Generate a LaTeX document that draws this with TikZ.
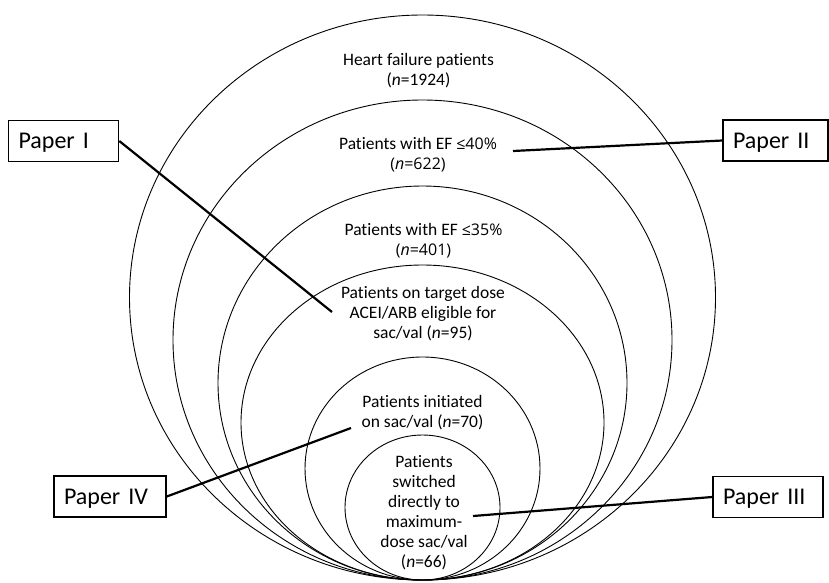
\documentclass[tikz,border=0pt]{standalone}
\usepackage{fontspec}
\setmainfont{Carlito}[Ligatures=NoCommon]
\newfontfamily\segoe{Open Sans}
\newcommand{\thinpart}[1]{{\segoe\fontsize{16}{20}\selectfont #1}}
\begin{document}
\begin{tikzpicture}[x=1pt,y=-1pt,
  ring/.style={line width=0.9pt},
  tag/.style={font=\fontsize{17.5}{20}\selectfont, align=center, inner sep=0pt},
  paperbox/.style={draw, line width=1.6pt, font=\fontsize{24}{28}\selectfont,
    text height=15.5pt, text depth=0pt, minimum height=41pt,
    inner xsep=10pt, align=left},
  link/.style={line width=2.2pt}]
\useasboundingbox (0,0) rectangle (829,582);

% nested groups, all touching at the bottom
\draw[ring] (422.5,297.5) ellipse [x radius=293pt, y radius=282.5pt];
\draw[ring] (422.5,340)   ellipse [x radius=249.5pt, y radius=240pt];
\draw[ring] (422.5,383)   ellipse [x radius=204.5pt, y radius=197pt];
\draw[ring] (422.5,422.5) ellipse [x radius=181.5pt, y radius=157.5pt];
\draw[ring] (422.5,468.5) ellipse [x radius=117.5pt, y radius=111.5pt];
\draw[ring] (422.5,507.5) ellipse [x radius=77.5pt, y radius=72.5pt];

% group labels
\node[tag] (hf)   at (418.5,71)  {Heart failure patients\\(\textit{n}=1924)};
\node[tag] (ef40) at (418,155)   {Patients with EF \thinpart{≤40\%}\\\thinpart{(\textit{n}=622)}};
\node[tag] (ef35) at (423.5,241) {Patients with EF \thinpart{≤35\%}\\\thinpart{(\textit{n}=401)}};
\node[tag] (tgt)  at (423,314)   {Patients on target dose\\ACEI/ARB eligible for\\sac/val (\textit{n}=95)};
\node[tag] (init) at (422.5,412.5) {Patients initiated\\on sac/val (\textit{n}=70)};
\node[tag] (sw)   at (424,512.5) {Patients\\switched\\directly to\\maximum-\\dose sac/val\\(\textit{n}=66)};

% paper boxes
\node[paperbox, text width=90pt] (p1) at (63.5,141)  {Paper I};
\node[paperbox, text width=85pt] (p2) at (775.5,140.5) {Paper II};
\node[paperbox, text width=92pt] (p4) at (110,496.5) {Paper IV};
\node[paperbox, text width=90pt] (p3) at (768,497)   {Paper III};

% connector ends inside the rings
\coordinate (e1) at (332,312);
\coordinate (e2) at (513,151);
\coordinate (e4) at (351,428);
\coordinate (e3) at (473,516);

\draw[link] (p1.east) -- (e1);
\draw[link] (p2.west) -- (e2);
\draw[link] (p4.east) -- (e4);
\draw[link] (p3.west) -- (e3);
\end{tikzpicture}
\end{document}
